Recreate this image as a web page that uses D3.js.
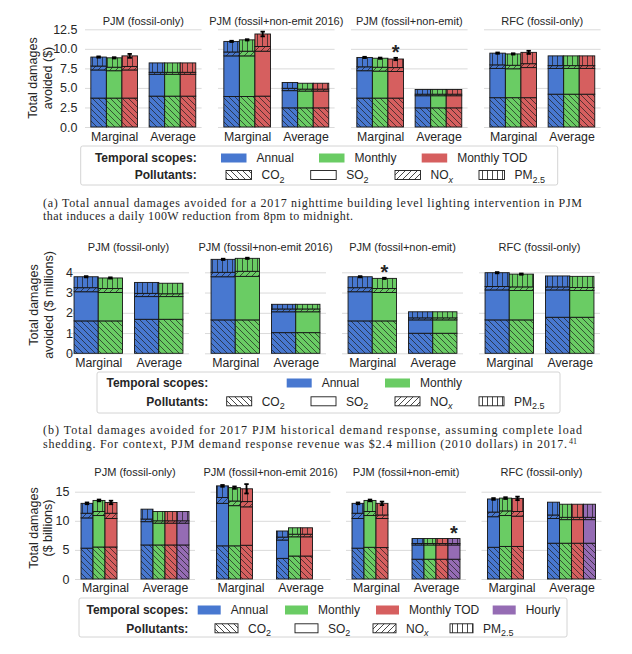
<!DOCTYPE html>
<html>
<head>
<meta charset="utf-8">
<script src="https://cdn.jsdelivr.net/npm/d3@7"></script>
<style>
body { margin: 0; background: #fff; }
text { font-family: "Liberation Sans", Arial, sans-serif; fill: #262626; }
</style>
</head>
<body>
<svg id="fig" width="632" height="654"></svg>
<script>
var regions = ["PJM (fossil-only)", "PJM (fossil+non-emit 2016)", "PJM (fossil+non-emit)", "RFC (fossil-only)"]
var methods = ["Marginal", "Average"]
var scopes = ["Annual", "Monthly", "Monthly TOD", "Hourly"]
var scopeColors = ["#4878d0", "#6acc64", "#d65f5f", "#956cb4"]

// (a) lighting intervention, $  -- [region][method][scope]
var aCO2 = [[[3.7, 3.7, 3.7], [3.95, 3.95, 3.95]], [[3.9, 3.9, 3.95], [2.45, 2.45, 2.45]], [[3.7, 3.7, 3.7], [2.45, 2.45, 2.45]], [[3.75, 3.75, 3.75], [4.2, 4.2, 4.2]]]
var aSO2 = [[[3.6, 3.5, 3.6], [2.8, 2.8, 2.8]], [[5.2, 5.2, 5.75], [2.2, 2.15, 2.15]], [[3.5, 3.45, 3.4], [1.55, 1.55, 1.55]], [[3.75, 3.7, 3.85], [3.3, 3.3, 3.3]]]
var aNOx = [[[0.5, 0.45, 0.45], [0.25, 0.25, 0.25]], [[0.5, 0.6, 0.6], [0.3, 0.25, 0.25]], [[0.5, 0.5, 0.5], [0.2, 0.2, 0.2]], [[0.45, 0.45, 0.5], [0.35, 0.35, 0.35]]]
var aPM = [[[1.15, 1.2, 1.35], [1.2, 1.2, 1.2]], [[1.35, 1.45, 1.6], [0.75, 0.75, 0.75]], [[1.2, 1.15, 1.1], [0.6, 0.6, 0.6]], [[1.5, 1.45, 1.45], [1.25, 1.25, 1.25]]]
var aErr = [[0.08, 0.08, 0.25], [0.08, 0.08, 0.3], [0.08, 0.08, 0.15], [0.08, 0.08, 0.2]]

// (b) demand response, $ millions
var bCO2 = [[[1.6, 1.6], [1.68, 1.68]], [[1.65, 1.65], [1.02, 1.02]], [[1.6, 1.6], [0.99, 0.99]], [[1.65, 1.65], [1.78, 1.78]]]
var bSO2 = [[[1.44, 1.4], [1.12, 1.12]], [[2.13, 2.15], [1.03, 1.03]], [[1.44, 1.4], [0.66, 0.66]], [[1.48, 1.45], [1.35, 1.32]]]
var bNOx = [[[0.2, 0.2], [0.16, 0.14]], [[0.22, 0.25], [0.14, 0.14]], [[0.2, 0.2], [0.1, 0.1]], [[0.17, 0.18], [0.15, 0.15]]]
var bPM = [[[0.54, 0.52], [0.54, 0.52]], [[0.64, 0.64], [0.23, 0.23]], [[0.54, 0.5], [0.3, 0.3]], [[0.68, 0.63], [0.54, 0.55]]]
var bErr = [[0.03, 0.03], [0.03, 0.03], [0.03, 0.03], [0.03, 0.03]]

// (c) $ billions, null = scope not available
var cCO2 = [[[5.3, 5.5, 5.5, null], [5.85, 5.85, 5.85, 5.85]], [[5.7, 5.7, 5.8, null], [3.55, 3.95, 3.95, null]], [[5.3, 5.45, 5.4, null], [3.4, 3.4, 3.4, 3.4]], [[5.45, 5.6, 5.6, null], [6.15, 6.15, 6.15, 6.15]]]
var cSO2 = [[[5.2, 5.4, 4.9, null], [4.0, 3.75, 3.75, 3.75]], [[7.3, 6.9, 6.6, null], [3.15, 3.3, 3.3, null]], [[5.1, 5.45, 5.0, null], [2.45, 2.45, 2.45, 2.45]], [[5.25, 5.3, 5.2, null], [4.25, 4.05, 4.05, 4.05]]]
var cNOx = [[[0.8, 0.7, 0.9, null], [0.45, 0.4, 0.4, 0.4]], [[1.0, 0.8, 0.9, null], [0.5, 0.45, 0.45, null]], [[0.9, 0.7, 0.6, null], [0.25, 0.25, 0.25, 0.25]], [[0.8, 0.8, 0.8, null], [0.6, 0.4, 0.4, 0.4]]]
var cPM = [[[1.7, 1.9, 1.85, null], [1.7, 1.6, 1.6, 1.6]], [[2.0, 2.3, 2.2, null], [1.05, 1.1, 1.1, null]], [[1.7, 1.9, 2.0, null], [0.85, 0.85, 0.85, 0.85]], [[2.25, 2.2, 2.25, null], [2.2, 2.25, 2.25, 2.25]]]
var cErr = [[0.15, 0.15, 0.3], [0.15, 0.2, 0.8], [0.15, 0.15, 0.3], [0.15, 0.15, 0.3]]

var patterns = ["url(#hCO2)", null, "url(#hNOx)", "url(#hPM)"]

var svg = d3.select("#fig")
var defs = svg.append("defs")

// hatch patterns
function hatch(id, w, d) {
	defs.append("pattern")
		.attr("id", id)
		.attr("patternUnits", "userSpaceOnUse")
		.attr("width", w)
		.attr("height", w)
		.append("path")
		.attr("d", d)
		.attr("stroke", "#1a1a1a")
		.attr("stroke-width", 0.8)
		.attr("fill", "none")
}
hatch("hCO2", 6, "M0,0L6,6M-1,5L1,7M5,-1L7,1")
hatch("hNOx", 6, "M0,6L6,0M-1,1L1,-1M5,7L7,5")
hatch("hPM", 5, "M2.5,-1L2.5,6")

function drawFig(f) {
	var y = d3.scaleLinear().domain(f.yDom).range(f.yRange)
	var bw = 0.8 / f.slots
	var layers = [f.co2, f.so2, f.nox, f.pm]

	f.x0.forEach(function (x0, r) {
		var x = d3.scaleLinear().domain([-0.5, 1.5]).range([x0, x0 + f.w])
		var g = svg.append("g")

		// gridlines
		g.append("g")
			.attr("transform", "translate(" + x0 + ",0)")
			.call(d3.axisLeft(y).tickValues(f.ticks).tickSize(-f.w).tickFormat(""))
			.call(function (a) { a.select(".domain").remove() })
			.selectAll("line").attr("stroke", "#dadada").attr("stroke-width", 1)

		// y tick labels on first panel
		if (r == 0) {
			g.append("g")
				.attr("transform", "translate(" + x0 + ",0)")
				.call(d3.axisLeft(y).tickValues(f.ticks).tickSize(0).tickPadding(x0 - f.tickRight).tickFormat(d3.format(f.fmt)))
				.call(function (a) { a.select(".domain").remove() })
				.selectAll("text")
				.style("font-size", "12.5px")
				.style("font-family", "Liberation Sans, Arial, sans-serif")
				.attr("fill", "#262626")
		}

		// category labels
		g.append("g")
			.attr("transform", "translate(0," + (f.catY - 12) + ")")
			.call(d3.axisBottom(x).tickValues([0, 1]).tickSize(0).tickPadding(0).tickFormat(function (d) { return methods[d] }))
			.call(function (a) { a.select(".domain").remove() })
			.selectAll("text")
			.style("font-size", "12.3px")
			.style("font-family", "Liberation Sans, Arial, sans-serif")
			.attr("fill", "#262626")

		// panel title
		g.append("text")
			.attr("x", x(0.5))
			.attr("y", f.titleY)
			.attr("text-anchor", "middle")
			.style("font-size", "11px")
			.text(regions[r])

		// stacked bars
		for (var m = 0; m < 2; m++) {
			for (var s = 0; s < f.slots; s++) {
				if (layers[0][r][m][s] == null) continue
				var left = x(m - 0.4 + s * bw)
				var wid = x(m - 0.4 + (s + 1) * bw) - left
				var base = 0
				for (var p = 0; p < 4; p++) {
					var v = layers[p][r][m][s]
					var yt = y(base + v), yb = y(base)
					g.append("rect")
						.attr("x", left).attr("y", yt)
						.attr("width", wid).attr("height", yb - yt)
						.attr("fill", scopeColors[s])
					if (patterns[p]) {
						g.append("rect")
							.attr("x", left).attr("y", yt)
							.attr("width", wid).attr("height", yb - yt)
							.attr("fill", patterns[p])
							.attr("opacity", 0.85)
					}
					g.append("rect")
						.attr("x", left).attr("y", yt)
						.attr("width", wid).attr("height", yb - yt)
						.attr("fill", "none")
						.attr("stroke", "#141414")
						.attr("stroke-width", 0.9)
					base += v
				}
				var top = base
				// error bars on marginal bars
				if (m == 0) {
					var e = f.err[r][s]
					var cx = left + wid / 2
					g.append("line")
						.attr("x1", cx).attr("x2", cx)
						.attr("y1", y(top - e)).attr("y2", y(top + e))
						.attr("stroke", "#000").attr("stroke-width", 1.8)
					;[top - e, top + e].forEach(function (t) {
						g.append("line")
							.attr("x1", cx - 2.2).attr("x2", cx + 2.2)
							.attr("y1", y(t)).attr("y2", y(t))
							.attr("stroke", "#000").attr("stroke-width", 1.8)
					})
					top = top + e
				}
				if (f.star[0] == r && f.star[1] == m && f.star[2] == s) {
					g.append("text")
						.attr("x", left + wid / 2)
						.attr("y", y(top) + 1)
						.attr("text-anchor", "middle")
						.style("font-size", "20px")
						.style("font-weight", "bold")
						.text("*")
				}
			}
		}
	})

	// y axis title
	f.ylab.forEach(function (t, i) {
		svg.append("text")
			.attr("transform", "translate(" + f.ylabX[i] + "," + f.ylabY + ") rotate(-90)")
			.attr("text-anchor", "middle")
			.style("font-size", "12.5px")
			.text(t)
	})

	drawLegend(f.legend, f.slots)
}

function polLabel(t, p) {
	var main = ["CO", "SO", "NO", "PM"][p]
	var sub = ["2", "2", "x", "2.5"][p]
	t.append("tspan").text(main)
	var st = t.append("tspan").attr("dy", 3.5).style("font-size", "9px").text(sub)
	if (p == 2) st.style("font-style", "italic")
}

function drawLegend(L, n) {
	var g = svg.append("g")
	g.append("rect")
		.attr("x", L.box[0]).attr("y", L.box[1])
		.attr("width", L.box[2]).attr("height", L.box[3])
		.attr("rx", 2)
		.attr("fill", "#fff")
		.attr("stroke", "#d4d4d4")
	g.append("text")
		.attr("x", L.labelRight).attr("y", L.rows[0] + 4.3)
		.attr("text-anchor", "end")
		.style("font-size", "12px").style("font-weight", "bold")
		.text("Temporal scopes:")
	g.append("text")
		.attr("x", L.labelRight).attr("y", L.rows[1] + 4.3)
		.attr("text-anchor", "end")
		.style("font-size", "12px").style("font-weight", "bold")
		.text("Pollutants:")
	for (var s = 0; s < n; s++) {
		g.append("rect")
			.attr("x", L.scopeX[s]).attr("y", L.rows[0] - 4.5)
			.attr("width", L.swW).attr("height", 9)
			.attr("fill", scopeColors[s])
		g.append("text")
			.attr("x", L.scopeX[s] + L.swW + 10).attr("y", L.rows[0] + 4.3)
			.style("font-size", "12px")
			.text(scopes[s])
	}
	for (var p = 0; p < 4; p++) {
		var sx = L.polX[p], sy = L.rows[1] - 4.5
		g.append("rect").attr("x", sx).attr("y", sy).attr("width", L.swW).attr("height", 9).attr("fill", "#fff")
		if (patterns[p]) g.append("rect").attr("x", sx).attr("y", sy).attr("width", L.swW).attr("height", 9).attr("fill", patterns[p])
		g.append("rect").attr("x", sx).attr("y", sy).attr("width", L.swW).attr("height", 9)
			.attr("fill", "none").attr("stroke", "#1a1a1a").attr("stroke-width", 0.9)
		var t = g.append("text")
			.attr("x", sx + L.swW + 10).attr("y", L.rows[1] + 4.3)
			.style("font-size", "12px")
		polLabel(t, p)
	}
}

drawFig({
	co2: aCO2, so2: aSO2, nox: aNOx, pm: aPM, err: aErr, slots: 3,
	x0: [85, 218, 351, 484], w: 116.6,
	yDom: [0, 12.5], yRange: [127, 29.3], ticks: [0, 2.5, 5, 7.5, 10, 12.5], fmt: ".1f", tickRight: 77.5,
	titleY: 24.5, catY: 144.5,
	ylab: ["Total damages", "avoided ($)"], ylabX: [37, 51.5], ylabY: 78,
	star: [2, 0, 2],
	legend: { box: [80.7, 146, 477, 39], labelRight: 196.7, rows: [158, 175], scopeX: [221, 319, 421.7], swW: 25.5, polX: [226, 310.7, 395, 479] }
})

drawFig({
	co2: bCO2, so2: bSO2, nox: bNOx, pm: bPM, err: bErr, slots: 2,
	x0: [68, 205, 342, 479], w: 121,
	yDom: [0, 4], yRange: [353.3, 272.3], ticks: [0, 1, 2, 3, 4], fmt: "d", tickRight: 73,
	titleY: 250.5, catY: 370,
	ylab: ["Total damages", "avoided ($ millions)"], ylabX: [38, 52.5], ylabY: 305,
	star: [2, 0, 1],
	legend: { box: [97, 372, 463, 41], labelRight: 208.3, rows: [383, 401.3], scopeX: [286.7, 385], swW: 25, polX: [226.7, 311, 395, 479] }
})

drawFig({
	co2: cCO2, so2: cSO2, nox: cNOx, pm: cPM, err: cErr, slots: 4,
	x0: [75, 210.5, 346, 481.5], w: 120,
	yDom: [0, 15], yRange: [579, 491.7], ticks: [0, 5, 10, 15], fmt: "d", tickRight: 69.5,
	titleY: 475.5, catY: 595,
	ylab: ["Total damages", "($ billions)"], ylabX: [37.5, 52], ylabY: 528,
	star: [2, 1, 3],
	legend: { box: [79, 598, 488, 39], labelRight: 188.3, rows: [610, 628.3], scopeX: [197.7, 285, 376, 492.7], swW: 23, polX: [215, 295, 373, 450] }
})

// captions (serif, justified lines stretched to the text width)
function caption(str, x, y, len) {
	var t = svg.append("text")
		.attr("x", x).attr("y", y)
		.style("font-family", "Liberation Serif, Times New Roman, serif")
		.style("font-size", "12px")
		.attr("fill", "#111")
		.text(str)
	if (len) t.attr("textLength", len).attr("lengthAdjust", "spacing")
	return t
}
caption("(a) Total annual damages avoided for a 2017 nighttime building level lighting intervention in PJM", 43, 206.5, 539)
caption("that induces a daily 100W reduction from 8pm to midnight.", 43, 219.8, 310)
caption("(b) Total damages avoided for 2017 PJM historical demand response, assuming complete load", 43, 433.8, 539)
caption("shedding. For context, PJM demand response revenue was $2.4 million (2010 dollars) in 2017.", 43, 447.8, 524)
svg.append("text")
	.attr("x", 569).attr("y", 443.8)
	.style("font-family", "Liberation Serif, Times New Roman, serif")
	.style("font-size", "8px")
	.attr("fill", "#111")
	.text("41")
</script>
</body>
</html>
